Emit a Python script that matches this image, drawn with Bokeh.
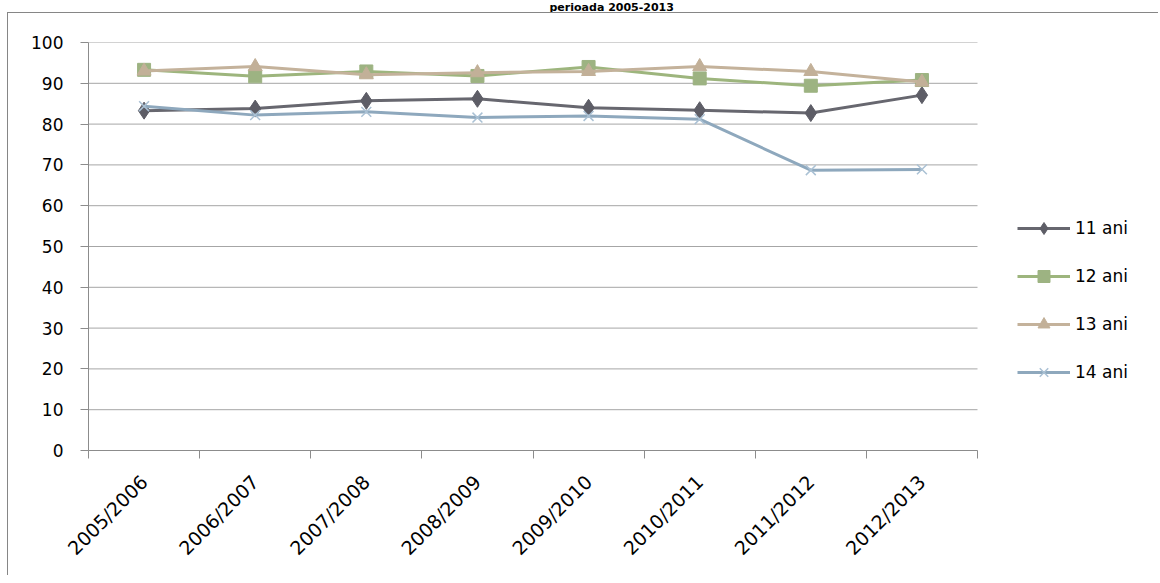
import math
from bokeh.plotting import figure
from bokeh.models import (Range1d, FixedTicker, Legend, LegendItem, Title,
                          CustomJSTickFormatter, InlineStyleSheet)
from bokeh.embed import file_html
from bokeh.resources import INLINE

years = ["2005/2006", "2006/2007", "2007/2008", "2008/2009",
         "2009/2010", "2010/2011", "2011/2012", "2012/2013"]
ani11 = [83.3, 83.8, 85.7, 86.2, 84.0, 83.4, 82.7, 87.1]
ani12 = [93.3, 91.7, 92.9, 91.8, 94.0, 91.2, 89.4, 90.8]
ani13 = [93.0, 94.1, 92.1, 92.6, 92.9, 94.1, 92.9, 90.3]
ani14 = [84.4, 82.2, 83.0, 81.6, 82.0, 81.2, 68.7, 68.9]
series_names = ["11 ani", "12 ani", "13 ani", "14 ani"]
y_ticks = list(range(0, 101, 10))
title_text = "perioada 2005-2013"

n = len(years)
xs = [i + 0.5 for i in range(n)]
FONT = "DejaVu Sans"
GRAY = "#8c8c8c"

# plot area: 889 px for the categories + room on the right for the legend
DATA_W, EXTRA_W = 889, 181
x_end = n * (DATA_W + EXTRA_W) / DATA_W

p = figure(frame_width=DATA_W + EXTRA_W, frame_height=408,
           x_range=Range1d(0, x_end), y_range=Range1d(0, 100),
           output_backend="svg", toolbar_location=None,
           min_border_left=88, min_border_right=0, min_border_top=42,
           min_border_bottom=125, title=title_text)
p.stylesheets = [InlineStyleSheet(css="""
:host { position: relative; }
:host::after { content: ''; position: absolute; left: 7px; top: 12px; right: 0; bottom: 0;
  border-left: 1px solid #868686; border-top: 1px solid #868686;
  pointer-events: none; z-index: 10; }
""")]
p.outline_line_color = None
p.background_fill_color = "white"
p.border_fill_color = "white"

p.title.align = "left"
p.title.offset = 461
p.title.text_font = FONT
p.title.text_font_size = "11px"
p.title.text_font_style = "bold"
p.title.text_color = "#000000"
p.title.vertical_align = "top"
p.title.standoff = 0
# empty spacer between the title and the plot area
p.add_layout(Title(text=" ", text_font_size="1px", standoff=24), "above")

# axes
p.xaxis.bounds = (0, n)
p.xaxis.ticker = FixedTicker(ticks=xs, minor_ticks=list(range(n + 1)))
p.xaxis.formatter = CustomJSTickFormatter(args=dict(labels=years),
                                          code="return labels[Math.floor(tick)] || ''")
p.xaxis.major_tick_line_color = None
p.xaxis.minor_tick_line_color = GRAY
p.xaxis.minor_tick_out = 8
p.xaxis.minor_tick_in = 0
p.xaxis.axis_line_color = GRAY
p.xaxis.major_label_orientation = math.pi / 4
p.xaxis.major_label_text_font = FONT
p.xaxis.major_label_text_font_size = "19px"
p.xaxis.major_label_text_color = "#000000"
p.xaxis.major_label_standoff = 20

p.yaxis.ticker = FixedTicker(ticks=y_ticks)
p.yaxis.major_tick_line_color = GRAY
p.yaxis.major_tick_out = 8
p.yaxis.major_tick_in = 0
p.yaxis.minor_tick_line_color = None
p.yaxis.axis_line_color = GRAY
p.yaxis.major_label_text_font = FONT
p.yaxis.major_label_text_font_size = "17px"
p.yaxis.major_label_text_color = "#000000"
p.yaxis.major_label_standoff = 17

# horizontal gridlines only across the category area
p.xgrid.grid_line_color = None
p.ygrid.grid_line_color = None
p.segment(x0=[0] * len(y_ticks), x1=[n] * len(y_ticks), y0=y_ticks, y1=y_ticks,
          line_color="#a6a6a6", line_width=1, level="underlay")

# series
c11, c12, c13, c14 = "#67676f", "#9db57d", "#c4b29b", "#8ea8bd"
l11 = p.line(xs, ani11, line_color=c11, line_width=3)
m11 = p.scatter(xs, ani11, marker="diamond", size=17, fill_color="#5d5d66", line_color="#5d5d66")
l12 = p.line(xs, ani12, line_color=c12, line_width=3)
m12 = p.scatter(xs, ani12, marker="square", size=13, fill_color="#9db382", line_color="#9db382")
l13 = p.line(xs, ani13, line_color=c13, line_width=3)
m13 = p.scatter(xs, ani13, marker="triangle", size=14, fill_color="#c2b098", line_color="#c2b098")
l14 = p.line(xs, ani14, line_color=c14, line_width=3)
m14 = p.scatter(xs, ani14, marker="x", size=14, line_color="#aac1d4", line_width=1.5)

legend = Legend(items=[
    LegendItem(label=series_names[0], renderers=[l11, m11]),
    LegendItem(label=series_names[1], renderers=[l12, m12]),
    LegendItem(label=series_names[2], renderers=[l13, m13]),
    LegendItem(label=series_names[3], renderers=[l14, m14]),
], location=(DATA_W + 40, 63))
legend.glyph_width = 53
legend.glyph_height = 30
legend.label_height = 30
legend.label_standoff = 5
legend.spacing = 18
legend.padding = 0
legend.margin = 0
legend.border_line_color = None
legend.background_fill_alpha = 0
legend.label_text_font = FONT
legend.label_text_font_size = "17px"
legend.label_text_color = "#000000"
p.add_layout(legend)

open("out.html", "w").write(file_html(p, INLINE))
